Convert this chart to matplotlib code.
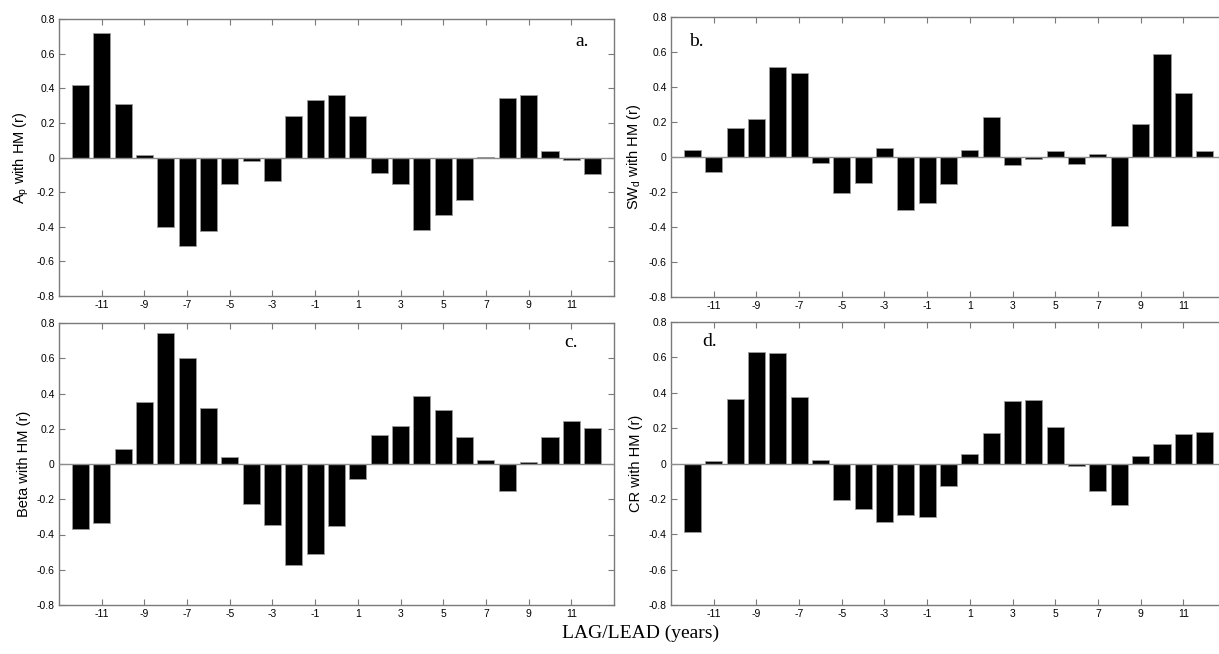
import numpy as np
import matplotlib.pyplot as plt

# lag/lead in years
lags = np.arange(-12, 13)

# correlation coefficients with HM for each driver
ap_r = [0.42, 0.72, 0.31, 0.013, -0.40, -0.51, -0.425, -0.155, -0.023, -0.135,
        0.24, 0.33, 0.363, 0.24, -0.087, -0.155, -0.42, -0.33, -0.243, 0.004,
        0.342, 0.36, 0.038, -0.013, -0.094]
swd_r = [0.042, -0.086, 0.165, 0.22, 0.517, 0.479, -0.034, -0.205, -0.151, 0.052,
         -0.305, -0.262, -0.153, 0.042, 0.228, -0.046, -0.011, 0.033, -0.038, 0.019,
         -0.397, 0.186, 0.59, 0.364, 0.034]
beta_r = [-0.37, -0.334, 0.083, 0.351, 0.742, 0.602, 0.319, 0.04, -0.228, -0.347,
          -0.574, -0.508, -0.351, -0.087, 0.164, 0.213, 0.385, 0.304, 0.153, 0.025,
          -0.155, 0.011, 0.153, 0.242, 0.206]
cr_r = [-0.389, 0.015, 0.362, 0.63, 0.626, 0.377, 0.019, -0.206, -0.26, -0.328,
        -0.292, -0.304, -0.126, 0.051, 0.174, 0.355, 0.358, 0.206, -0.013, -0.157,
        -0.234, 0.04, 0.109, 0.168, 0.179]

ylabels = [r"A$_\mathregular{p}$ with HM (r)", r"SW$_\mathregular{d}$ with HM (r)",
           "Beta with HM (r)", "CR with HM (r)"]
letters = ["a.", "b.", "c.", "d."]
xticks = list(range(-11, 12, 2))
yticks = [-0.8, -0.6, -0.4, -0.2, 0, 0.2, 0.4, 0.6, 0.8]
ytick_labels = ["-0.8", "-0.6", "-0.4", "-0.2", "0", "0.2", "0.4", "0.6", "0.8"]

W, H = 1219, 654
fig = plt.figure(figsize=(W / 100, H / 100), dpi=100)
plt.rcParams["font.family"] = ["Liberation Sans", "DejaVu Sans"]

# axes boxes in pixels: left, right, top, bottom
boxes = [(59, 614, 19, 296), (671, 1226, 17, 297),
         (59, 614, 323, 605), (671, 1226, 322, 605)]
letter_pos = [(11.5, 0.67), (-11.8, 0.66), (11.0, 0.69), (-11.2, 0.69)]
series = [ap_r, swd_r, beta_r, cr_r]

for i, (l, r, t, b) in enumerate(boxes):
    ax = fig.add_axes([l / W, 1 - b / H, (r - l) / W, (b - t) / H])
    ax.bar(lags, series[i], width=0.8, color="black", edgecolor="#9a9a9a",
           linewidth=0.6, zorder=2)
    ax.axhline(0, color="#8c8c8c", linewidth=1.0, zorder=3)
    ax.set_xlim(-13, 13)
    ax.set_ylim(-0.8, 0.8)
    ax.set_xticks(xticks)
    ax.set_xticklabels([str(v) for v in xticks])
    ax.set_yticks(yticks)
    ax.set_yticklabels(ytick_labels)
    ax.tick_params(direction="in", length=4, width=0.8, color="#7a7a7a",
                   labelsize=7.5, top=True, right=True, pad=3)
    for s in ax.spines.values():
        s.set_color("#7a7a7a")
        s.set_linewidth(1.0)
    ax.set_ylabel(ylabels[i], fontsize=10.5, labelpad=4)
    ax.text(letter_pos[i][0], letter_pos[i][1], letters[i], ha="center",
            va="center", fontsize=14, family="Liberation Serif")

fig.text(641 / W, 1 - 633 / H, "LAG/LEAD (years)", ha="center", va="center",
         fontsize=14, family="Liberation Serif")

fig.savefig("out.png", dpi=100)
